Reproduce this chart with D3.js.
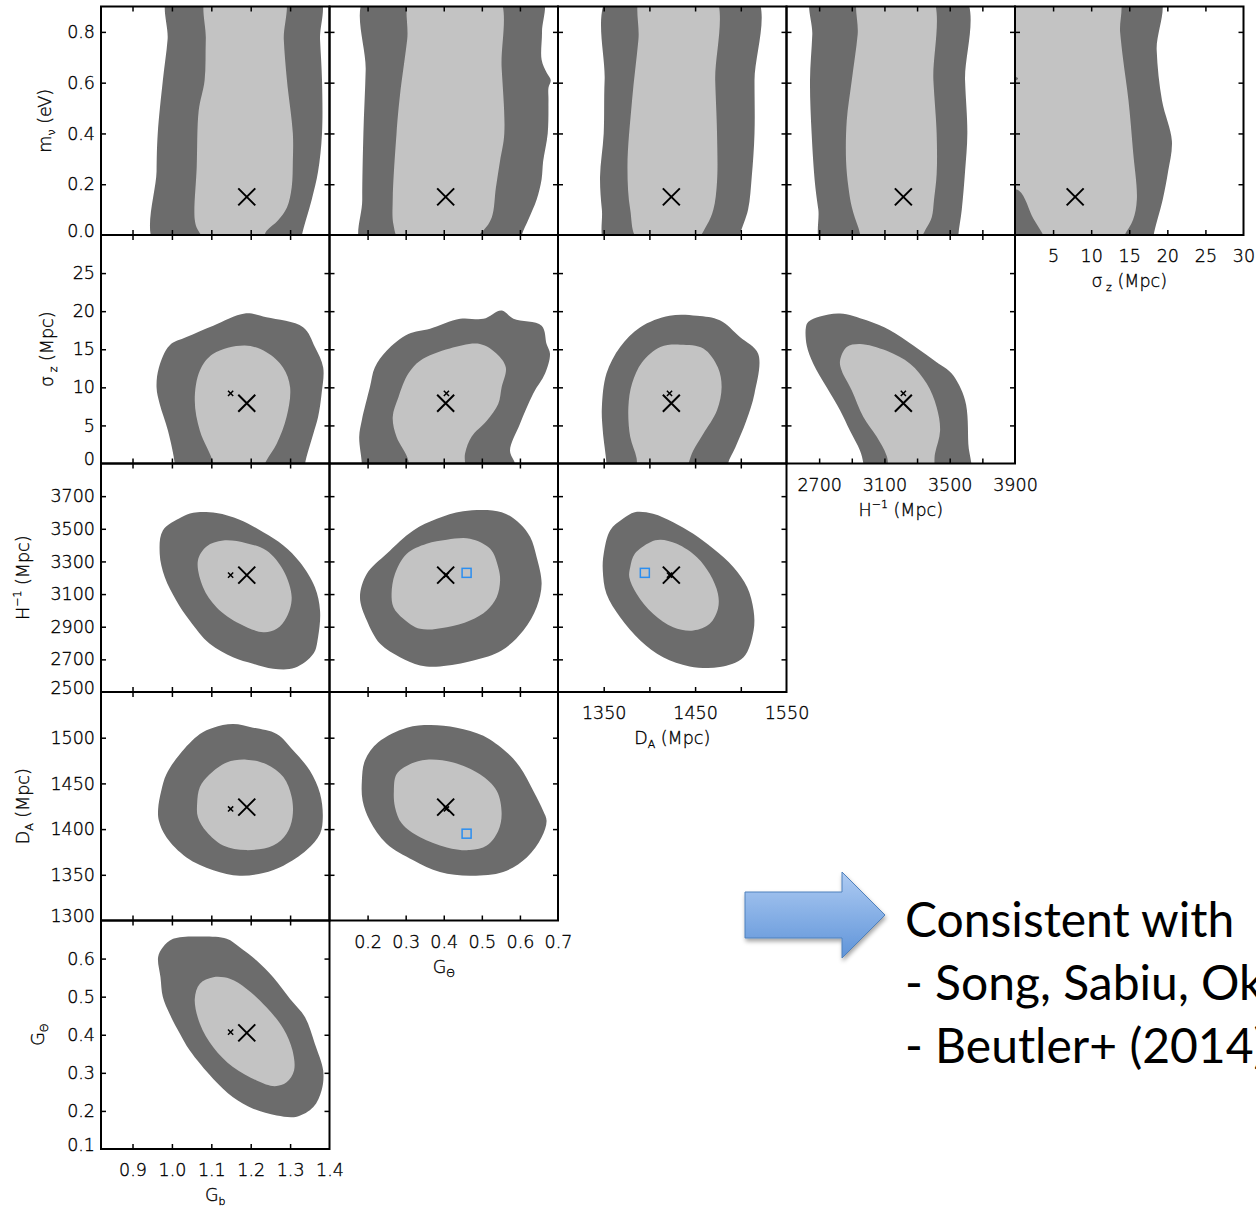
<!DOCTYPE html>
<html>
<head>
<meta charset="utf-8">
<title>Parameter constraints</title>
<script src="https://cdn.jsdelivr.net/npm/d3@7"></script>
<style>
body { margin: 0; background: #fff; }
svg { display: block; }
.lab { font-family: "DejaVu Sans", sans-serif; font-size: 17.5px; font-weight: 200; fill: #000; stroke: #000; stroke-width: 0.35px; }
.note { font-family: Lato, "Open Sans", sans-serif; font-size: 48px; fill: #000; }
</style>
</head>
<body>
<svg id="chart" width="1256" height="1208"></svg>
<script>
// parameters: G_b, G_theta, D_A, H^-1, sigma_z, m_nu
var paramKeys = ["gb", "gt", "da", "h", "sz", "mnu"];
var paramDomains = [[0.82, 1.4], [0.1, 0.7], [1300, 1550], [2500, 3900], [0, 30], [0, 0.9]];
var paramTicks = [
    [0.9, 1.0, 1.1, 1.2, 1.3],
    [0.2, 0.3, 0.4, 0.5, 0.6],
    [1350, 1400, 1450, 1500],
    [2700, 2900, 3100, 3300, 3500, 3700],
    [5, 10, 15, 20, 25],
    [0.2, 0.4, 0.6, 0.8]
];
var xTickLabels = [
    [0.9, 1.0, 1.1, 1.2, 1.3, 1.4],
    [0.2, 0.3, 0.4, 0.5, 0.6, 0.7],
    [1350, 1450, 1550],
    [2700, 3100, 3500, 3900],
    [5, 10, 15, 20, 25, 30],
    []
];
var yTickLabels = [
    [],
    [0.1, 0.2, 0.3, 0.4, 0.5, 0.6],
    [1300, 1350, 1400, 1450, 1500],
    [2500, 2700, 2900, 3100, 3300, 3500, 3700],
    [0, 5, 10, 15, 20, 25],
    [0.0, 0.2, 0.4, 0.6, 0.8]
];
var tickFormats = [".1f", ".1f", "d", "d", "d", ".1f"];

// fiducial (big X), best fit (small x), other measurement (blue square)
var fiducialVals = [1.19, 0.405, 1424, 3216, 7.9, 0.15];
var bestFitVals = [1.149, 0.407, 1422, 3216, 9.2, null];
var otherVals = [null, 0.46, 1395, 3230, null, null];

// 95% and 68% regions, [x, y] in parameter units
var gbMnu95 = [[0.994,0.95],[0.989,0.77],[0.977,0.61],[0.964,0.40],[0.961,0.25],[0.961,-0.05],[1.325,-0.05],[1.330,0.0],[1.355,0.14],[1.371,0.25],[1.381,0.40],[1.381,0.61],[1.376,0.77],[1.371,0.95]];
var gbMnu68 = [[1.091,0.95],[1.086,0.77],[1.083,0.61],[1.068,0.49],[1.063,0.27],[1.058,0.06],[1.066,0.02],[1.090,-0.02],[1.225,-0.02],[1.241,0.018],[1.269,0.057],[1.292,0.108],[1.304,0.187],[1.307,0.293],[1.307,0.40],[1.292,0.61],[1.284,0.77],[1.282,0.95]];
var gtMnu95 = [[0.198,0.95],[0.195,0.65],[0.189,0.40],[0.186,0.14],[0.188,-0.05],[0.600,-0.05],[0.605,0.0],[0.622,0.06],[0.644,0.14],[0.657,0.22],[0.661,0.29],[0.673,0.40],[0.675,0.53],[0.675,0.58],[0.681,0.61],[0.670,0.64],[0.657,0.69],[0.658,0.80],[0.655,0.95]];
var gtMnu68 = [[0.316,0.95],[0.304,0.77],[0.285,0.55],[0.276,0.40],[0.266,0.14],[0.268,0.04],[0.285,-0.02],[0.470,-0.02],[0.504,0.018],[0.526,0.069],[0.537,0.187],[0.548,0.293],[0.559,0.40],[0.552,0.66],[0.539,0.95]];
var daMnu95 = [[1357,0.95],[1351,0.61],[1350,0.40],[1346,0.23],[1348,0.10],[1354,-0.05],[1497,-0.05],[1499,0.0],[1508,0.10],[1512,0.23],[1515,0.40],[1515,0.61],[1515,0.95]];
var daMnu68 = [[1392,0.95],[1388,0.77],[1381,0.53],[1376,0.27],[1379,0.10],[1388,-0.02],[1450,-0.02],[1463,0.04],[1470,0.10],[1474,0.21],[1474,0.40],[1472,0.61],[1470,0.95]];
var hMnu95 = [[2664,0.95],[2658,0.79],[2644,0.61],[2654,0.40],[2675,0.20],[2695,0.10],[2725,-0.05],[3550,-0.05],[3553,0.0],[3574,0.10],[3594,0.25],[3608,0.40],[3594,0.61],[3580,0.95]];
var hMnu68 = [[2950,0.95],[2936,0.79],[2900,0.61],[2869,0.45],[2865,0.29],[2879,0.19],[2900,0.11],[2940,0.03],[2975,-0.02],[3300,-0.02],[3359,0.03],[3390,0.07],[3404,0.14],[3420,0.24],[3420,0.40],[3400,0.61],[3379,0.95]];
var szMnu95 = [[-2,0.95],[18.8,0.95],[18.6,0.73],[19.3,0.53],[20.6,0.37],[20.1,0.25],[19.4,0.14],[18.2,0.0],[18.0,-0.05],[-2,-0.05]];
var szMnu68 = [[-2,0.95],[13.4,0.95],[13.8,0.80],[14.2,0.69],[14.9,0.53],[15.5,0.33],[16.0,0.14],[15.5,0.06],[14.4,0.0],[14.0,-0.03],[4.0,-0.03],[3.7,0.0],[2.4,0.065],[0.5,0.175],[-2,0.19],[-2,0.58],[0.4,0.616],[-2,0.65]];

var gbSz95 = [[1.007,-2],[1.007,0],[0.990,4.3],[0.969,7.8],[0.961,10.0],[0.967,12.6],[0.994,15.5],[1.037,16.6],[1.105,18.1],[1.185,19.7],[1.240,19.2],[1.333,17.9],[1.363,15.3],[1.384,12.6],[1.380,9.2],[1.371,6.1],[1.359,3.9],[1.338,0],[1.335,-2]];
var gbSz68 = [[1.105,-2],[1.105,0],[1.071,4.3],[1.058,8.3],[1.071,12.2],[1.105,14.4],[1.185,15.5],[1.240,14.6],[1.282,12.6],[1.300,10.0],[1.291,6.1],[1.266,2.6],[1.240,0.4],[1.215,-2]];
var gtSz95 = [[0.185,-2],[0.185,0],[0.178,3.5],[0.185,5.7],[0.206,10.0],[0.219,12.6],[0.250,14.8],[0.307,17.0],[0.364,17.7],[0.443,19.0],[0.504,19.0],[0.552,20.1],[0.583,19.0],[0.657,18.1],[0.670,15.7],[0.679,14.4],[0.666,11.8],[0.635,9.2],[0.600,5.2],[0.574,1.7],[0.587,0],[0.59,-2]];
var gtSz68 = [[0.307,-2],[0.307,0.4],[0.276,3.5],[0.266,6.1],[0.281,8.7],[0.307,11.8],[0.338,13.5],[0.416,15.1],[0.495,15.7],[0.539,14.4],[0.563,12.6],[0.552,10.0],[0.543,7.8],[0.513,5.6],[0.473,3.5],[0.456,1.3],[0.451,-2]];
var daSz95 = [[1353,-2],[1353,0],[1349,4.3],[1348,7.4],[1353,11.8],[1368,15.3],[1390,17.9],[1422,19.4],[1452,19.4],[1477,18.8],[1499,16.6],[1519,14.4],[1515,9.2],[1506,5.6],[1494,2.1],[1486,0],[1485,-2]];
var daSz68 = [[1388,-2],[1386,0.7],[1379,3.5],[1377,7.4],[1381,10.5],[1392,13.3],[1412,15.3],[1434,15.6],[1459,15.1],[1475,12.6],[1479,10.0],[1474,7.0],[1459,3.9],[1448,1.7],[1433,-2]];
var hSz95 = [[2619,17.9],[2624,15.5],[2664,13.1],[2746,10.0],[2828,7.0],[2889,4.3],[2950,1.7],[2971,0],[2975,-2],[3615,-2],[3614,2.6],[3594,8.3],[3512,11.8],[3420,13.3],[3277,15.5],[3134,17.5],[2991,18.8],[2828,19.7],[2705,19.3],[2634,18.6]];
var hSz68 = [[2828,13.5],[2838,12.2],[2900,9.6],[2971,6.1],[3053,3.5],[3114,1.0],[3145,-2],[3385,-2],[3410,1.3],[3441,4.3],[3420,7.4],[3359,10.5],[3257,13.1],[3114,14.8],[2950,15.7],[2869,15.3]];

var gbH95 = [[0.977,3490],[1.024,3571],[1.054,3598],[1.113,3596],[1.172,3555],[1.232,3479],[1.283,3398],[1.325,3295],[1.363,3142],[1.376,3000],[1.371,2836],[1.359,2734],[1.312,2648],[1.257,2642],[1.206,2673],[1.155,2713],[1.096,2795],[1.045,2938],[1.011,3061],[0.982,3203],[0.969,3347]];
var gbH68 = [[1.066,3306],[1.088,3392],[1.130,3428],[1.189,3412],[1.240,3367],[1.283,3245],[1.304,3081],[1.291,2958],[1.266,2887],[1.232,2866],[1.172,2918],[1.113,3020],[1.079,3142]];
var gtH95 = [[0.180,3081],[0.198,3224],[0.250,3347],[0.320,3490],[0.382,3561],[0.451,3608],[0.552,3602],[0.600,3531],[0.627,3449],[0.644,3326],[0.657,3163],[0.644,3020],[0.609,2877],[0.552,2754],[0.478,2693],[0.390,2657],[0.338,2663],[0.285,2713],[0.233,2795],[0.198,2938]];
var gtH68 = [[0.263,3102],[0.272,3224],[0.303,3347],[0.355,3408],[0.408,3433],[0.469,3439],[0.522,3377],[0.543,3265],[0.548,3183],[0.539,3081],[0.513,3000],[0.469,2938],[0.408,2897],[0.338,2887],[0.294,2949],[0.268,3020]];
var daH95 = [[1350,3347],[1357,3490],[1371,3561],[1384,3602],[1404,3592],[1426,3540],[1448,3469],[1470,3377],[1492,3265],[1507,3142],[1514,3000],[1514,2877],[1503,2713],[1477,2653],[1444,2657],[1415,2713],[1390,2816],[1368,2958],[1353,3102],[1349,3245]];
var daH68 = [[1379,3265],[1384,3347],[1401,3418],[1412,3433],[1430,3408],[1452,3326],[1466,3224],[1475,3102],[1475,3010],[1466,2918],[1448,2877],[1426,2897],[1404,2979],[1386,3102],[1378,3203]];

var gbDa95 = [[0.965,1422],[0.973,1442],[0.986,1460],[1.020,1482],[1.071,1504],[1.105,1511],[1.155,1515],[1.206,1511],[1.266,1504],[1.308,1486],[1.350,1464],[1.376,1439],[1.383,1413],[1.376,1395],[1.342,1377],[1.283,1360],[1.232,1352],[1.172,1349],[1.105,1355],[1.037,1369],[0.986,1391],[0.967,1409]];
var gbDa68 = [[1.064,1428],[1.071,1446],[1.096,1460],[1.139,1473],[1.189,1476],[1.240,1471],[1.283,1457],[1.304,1435],[1.306,1413],[1.291,1395],[1.257,1382],[1.189,1377],[1.130,1382],[1.088,1397],[1.066,1413]];
var gtDa95 = [[0.185,1453],[0.193,1475],[0.228,1495],[0.303,1511],[0.364,1514],[0.434,1511],[0.504,1502],[0.565,1484],[0.600,1468],[0.635,1442],[0.661,1420],[0.670,1409],[0.657,1391],[0.618,1369],[0.556,1353],[0.469,1349],[0.390,1353],[0.320,1366],[0.250,1384],[0.206,1409],[0.187,1431]];
var gtDa68 = [[0.269,1442],[0.276,1460],[0.311,1471],[0.355,1476],[0.425,1473],[0.495,1460],[0.539,1442],[0.552,1417],[0.543,1398],[0.513,1382],[0.469,1377],[0.408,1380],[0.338,1391],[0.290,1406],[0.272,1424]];

var gbGt95 = [[0.965,0.604],[0.977,0.630],[1.003,0.652],[1.079,0.658],[1.139,0.652],[1.172,0.630],[1.215,0.595],[1.257,0.551],[1.300,0.494],[1.338,0.446],[1.363,0.376],[1.384,0.306],[1.380,0.254],[1.359,0.210],[1.317,0.185],[1.266,0.188],[1.206,0.206],[1.155,0.236],[1.105,0.284],[1.045,0.359],[1.020,0.403],[0.994,0.455],[0.977,0.499],[0.971,0.551]];
var gbGt68 = [[1.058,0.494],[1.071,0.534],[1.105,0.551],[1.147,0.547],[1.189,0.521],[1.240,0.472],[1.283,0.416],[1.306,0.359],[1.310,0.306],[1.291,0.275],[1.261,0.265],[1.215,0.280],[1.155,0.315],[1.105,0.367],[1.071,0.429]];

// panel table built from the arrays above
var panels = [
    {x: "gb", y: "mnu", c95: gbMnu95, c68: gbMnu68},
    {x: "gt", y: "mnu", c95: gtMnu95, c68: gtMnu68},
    {x: "da", y: "mnu", c95: daMnu95, c68: daMnu68},
    {x: "h", y: "mnu", c95: hMnu95, c68: hMnu68},
    {x: "sz", y: "mnu", c95: szMnu95, c68: szMnu68},
    {x: "gb", y: "sz", c95: gbSz95, c68: gbSz68},
    {x: "gt", y: "sz", c95: gtSz95, c68: gtSz68},
    {x: "da", y: "sz", c95: daSz95, c68: daSz68},
    {x: "h", y: "sz", c95: hSz95, c68: hSz68},
    {x: "gb", y: "h", c95: gbH95, c68: gbH68},
    {x: "gt", y: "h", c95: gtH95, c68: gtH68},
    {x: "da", y: "h", c95: daH95, c68: daH68},
    {x: "gb", y: "da", c95: gbDa95, c68: gbDa68},
    {x: "gt", y: "da", c95: gtDa95, c68: gtDa68},
    {x: "gb", y: "gt", c95: gbGt95, c68: gbGt68}
];

var titleParts = [
    [["G"], ["b", "sub"]],
    [["G"], ["\u0398", "sub"]],
    [["D"], ["A", "sub"], [" (Mpc)"]],
    [["H"], ["\u22121", "sup"], [" (Mpc)"]],
    [["\u03c3"], [" z", "sub"], [" (Mpc)"]],
    [["m"], ["\u03bd", "sub"], [" (eV)"]]
];

var cols = ["gb", "gt", "da", "h", "sz"];
var rows = ["mnu", "sz", "h", "da", "gt"];
var size = 228.5, padLeft = 101, padTop = 6.5;
var yTitleX = [51, 53, 29, 29, 44]; // baseline of rotated titles, per row
var dark = "#6c6c6c", light = "#c3c3c3";

function idx(p) { return paramKeys.indexOf(p); }

function xScale(p) {
    var c = cols.indexOf(p);
    return d3.scaleLinear().domain(paramDomains[idx(p)]).range([padLeft + c * size, padLeft + (c + 1) * size]);
}

function yScale(p) {
    var r = rows.indexOf(p);
    return d3.scaleLinear().domain(paramDomains[idx(p)]).range([padTop + (r + 1) * size, padTop + r * size]);
}

var svg = d3.select("#chart");
var defs = svg.append("defs");

function addTitle(sel, parts) {
    var shift = 0;
    parts.forEach(function(pt) {
        var ts = sel.append("tspan").text(pt[0]);
        if (pt[1] === "sub") {
            ts.attr("font-size", 11).attr("dy", 4);
            shift = 4;
        } else if (pt[1] === "sup") {
            ts.attr("font-size", 11).attr("dy", -8);
            shift = -8;
        } else if (shift !== 0) {
            ts.attr("dy", -shift);
            shift = 0;
        }
    });
}

panels.forEach(function(pn, i) {
    var xs = xScale(pn.x), ys = yScale(pn.y);
    var col = cols.indexOf(pn.x), row = rows.indexOf(pn.y);
    var px = padLeft + col * size, py = padTop + row * size;

    defs.append("clipPath").attr("id", "clip" + i)
        .append("rect")
        .attr("x", px).attr("y", py)
        .attr("width", size).attr("height", size);

    var g = svg.append("g").attr("class", "panel");
    var cg = g.append("g").attr("clip-path", "url(#clip" + i + ")");

    var line = d3.line()
        .x(function(d) { return xs(d[0]); })
        .y(function(d) { return ys(d[1]); })
        .curve(d3.curveCatmullRomClosed.alpha(0.5));

    cg.append("path").attr("d", line(pn.c95)).attr("fill", dark);
    cg.append("path").attr("d", line(pn.c68)).attr("fill", light);

    // markers
    var fx = fiducialVals[idx(pn.x)], fy = fiducialVals[idx(pn.y)];
    var bx = bestFitVals[idx(pn.x)], by = bestFitVals[idx(pn.y)];
    var ox = otherVals[idx(pn.x)], oy = otherVals[idx(pn.y)];

    if (bx != null && by != null) {
        var sx = xs(bx), sy = ys(by), s = 2.6;
        cg.append("path")
            .attr("d", "M" + (sx - s) + "," + (sy - s) + "L" + (sx + s) + "," + (sy + s) +
                "M" + (sx - s) + "," + (sy + s) + "L" + (sx + s) + "," + (sy - s))
            .attr("stroke", "#000").attr("stroke-width", 1.5);
    }
    if (fx != null && fy != null) {
        var cx = xs(fx), cy = ys(fy), r = 8.5;
        cg.append("path")
            .attr("d", "M" + (cx - r) + "," + (cy - r) + "L" + (cx + r) + "," + (cy + r) +
                "M" + (cx - r) + "," + (cy + r) + "L" + (cx + r) + "," + (cy - r))
            .attr("stroke", "#000").attr("stroke-width", 2);
    }
    if (ox != null && oy != null) {
        cg.append("rect")
            .attr("x", xs(ox) - 4.5).attr("y", ys(oy) - 4.5)
            .attr("width", 9).attr("height", 9)
            .attr("fill", "none").attr("stroke", "#2b8ef0").attr("stroke-width", 1.5);
    }

    // inward ticks on all four sides
    var xt = paramTicks[idx(pn.x)], yt = paramTicks[idx(pn.y)];
    var tk = [
        g.append("g").attr("transform", "translate(0," + (py + size) + ")")
            .call(d3.axisBottom(xs).tickValues(xt).tickSizeInner(-5).tickSizeOuter(0).tickFormat("")),
        g.append("g").attr("transform", "translate(0," + py + ")")
            .call(d3.axisTop(xs).tickValues(xt).tickSizeInner(-5).tickSizeOuter(0).tickFormat("")),
        g.append("g").attr("transform", "translate(" + px + ",0)")
            .call(d3.axisLeft(ys).tickValues(yt).tickSizeInner(-5).tickSizeOuter(0).tickFormat("")),
        g.append("g").attr("transform", "translate(" + (px + size) + ",0)")
            .call(d3.axisRight(ys).tickValues(yt).tickSizeInner(-5).tickSizeOuter(0).tickFormat(""))
    ];
    tk.forEach(function(a) {
        a.select(".domain").remove();
        a.selectAll("text").remove();
        a.selectAll("line").attr("stroke-width", 1.5);
    });

    g.append("rect")
        .attr("x", px).attr("y", py)
        .attr("width", size).attr("height", size)
        .attr("fill", "none").attr("stroke", "#000").attr("stroke-width", 2);

    // x labels under the lowest panel of the column
    if (row === 4 - col) {
        var xa = g.append("g").attr("transform", "translate(0," + (py + size) + ")")
            .call(d3.axisBottom(xs).tickValues(xTickLabels[idx(pn.x)]).tickSize(0).tickPadding(15)
                .tickFormat(d3.format(tickFormats[idx(pn.x)])));
        xa.select(".domain").remove();
        xa.attr("font-family", null).attr("font-size", null);
        xa.selectAll("text").attr("class", "lab");

        g.append("text").attr("class", "lab")
            .attr("x", px + size / 2).attr("y", py + size + 52)
            .attr("text-anchor", "middle")
            .call(addTitle, titleParts[idx(pn.x)]);
    }

    // y labels on the first column
    if (col === 0) {
        var ya = g.append("g").attr("transform", "translate(" + px + ",0)")
            .call(d3.axisLeft(ys).tickValues(yTickLabels[idx(pn.y)]).tickSize(0).tickPadding(6)
                .tickFormat(d3.format(tickFormats[idx(pn.y)])));
        ya.select(".domain").remove();
        ya.attr("font-family", null).attr("font-size", null);
        var lo = paramDomains[idx(pn.y)][0];
        ya.selectAll("text").attr("class", "lab")
            .attr("y", function(d) { return d === lo ? -4.5 : 0; });

        g.append("text").attr("class", "lab")
            .attr("transform", "translate(" + yTitleX[row] + "," + (py + size / 2) + ") rotate(-90)")
            .attr("text-anchor", "middle")
            .call(addTitle, titleParts[idx(pn.y)]);
    }
});

// arrow and note on the right
var grad = defs.append("linearGradient").attr("id", "arrowFill")
    .attr("x1", 0).attr("y1", 0).attr("x2", 0).attr("y2", 1);
grad.append("stop").attr("offset", "0%").attr("stop-color", "#aecbf2");
grad.append("stop").attr("offset", "100%").attr("stop-color", "#5f94d9");

var shadow = defs.append("filter").attr("id", "shadow")
    .attr("x", "-10%").attr("y", "-10%").attr("width", "130%").attr("height", "140%");
shadow.append("feDropShadow").attr("dx", 1).attr("dy", 3).attr("stdDeviation", 2)
    .attr("flood-color", "#000").attr("flood-opacity", 0.35);

svg.append("path")
    .attr("d", "M745,892L842,892L842,872L885,915L842,958L842,938L745,938Z")
    .attr("fill", "url(#arrowFill)")
    .attr("stroke", "#4f81bd").attr("stroke-width", 1)
    .attr("filter", "url(#shadow)");

var noteLines = ["Consistent with", "- Song, Sabiu, Okumura+ (2015)", "- Beutler+ (2014)"];
svg.selectAll("text.note")
    .data(noteLines)
    .enter()
    .append("text")
    .attr("class", "note")
    .attr("x", 905)
    .attr("y", function(d, i) { return 937 + i * 63; })
    .text(function(d) { return d; });
</script>
</body>
</html>
